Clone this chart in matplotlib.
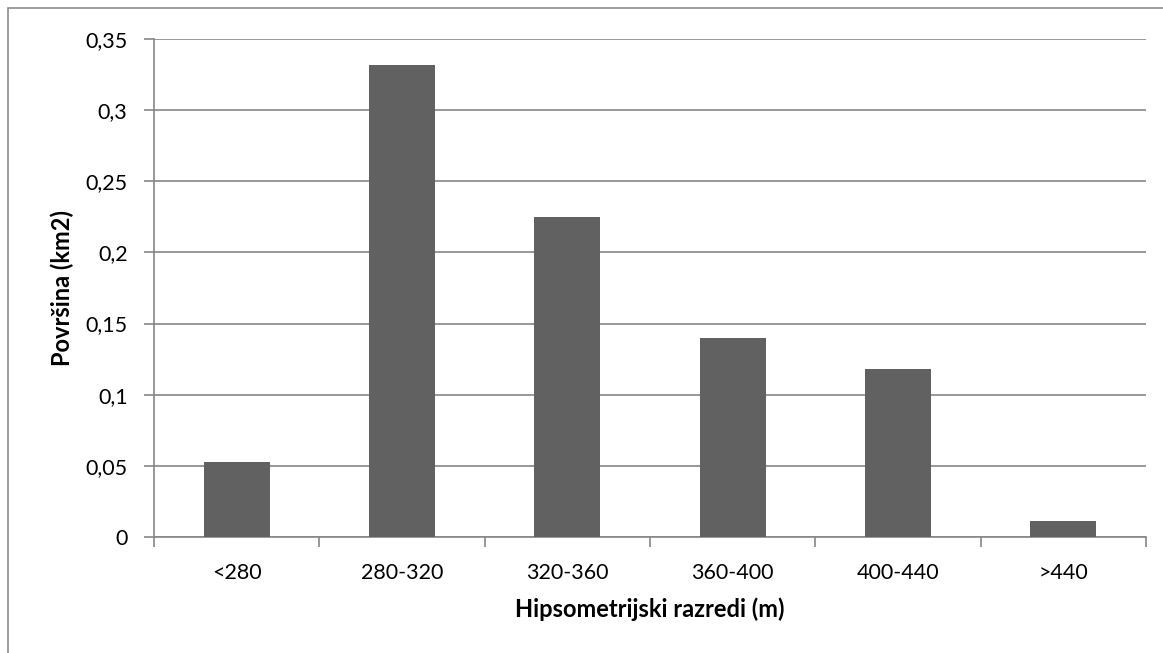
import matplotlib.pyplot as plt
from matplotlib.patches import Rectangle
from matplotlib.ticker import FixedLocator, MultipleLocator, FuncFormatter

plt.rcParams['font.family'] = ['Lato', 'DejaVu Sans']

# podaci
razredi = ['<280', '280-320', '320-360', '360-400', '400-440', '>440']
povrsina = [0.053, 0.332, 0.225, 0.140, 0.118, 0.011]

W, H = 1163, 653
fig = plt.figure(figsize=(W / 100, H / 100), dpi=100)
fig.patch.set_facecolor('white')

# okvir grafikona
fig.patches.append(Rectangle((8 / W, -0.05), (W + 20) / W, (H - 8) / H + 0.05,
                             transform=fig.transFigure, fill=False,
                             edgecolor='#8c8c8c', linewidth=1.2))

ax = fig.add_axes([154 / W, (H - 537) / H, (1146 - 154) / W, (537 - 39) / H])

grey = '#868686'
x = range(len(razredi))
ax.bar(x, povrsina, width=0.4, color='#616161', zorder=3)

ax.set_xlim(-0.5, len(razredi) - 0.5)
ax.set_ylim(0, 0.35)
ax.yaxis.set_major_locator(MultipleLocator(0.05))
ax.yaxis.set_major_formatter(FuncFormatter(
    lambda v, p: '0' if abs(v) < 1e-9 else ('%g' % round(v, 2)).replace('.', ',')))
ax.grid(axis='y', color=grey, linewidth=1.2, zorder=0)

ax.set_xticks(list(x))
ax.set_xticklabels(razredi)
ax.xaxis.set_minor_locator(FixedLocator([i - 0.5 for i in range(len(razredi) + 1)]))
ax.tick_params(axis='x', which='major', length=0, pad=19, labelsize=15.5)
ax.tick_params(axis='x', which='minor', length=7, width=1.2, color=grey)
ax.tick_params(axis='y', length=7, width=1.2, color=grey, labelsize=15.5, pad=12)

for s in ['top', 'right']:
    ax.spines[s].set_visible(False)
for s in ['left', 'bottom']:
    ax.spines[s].set_color(grey)
    ax.spines[s].set_linewidth(1.2)

ax.set_xlabel('Hipsometrijski razredi (m)', fontsize=17, fontweight='bold', labelpad=10)
ax.set_ylabel('Površina (km2)', fontsize=17, fontweight='bold', labelpad=8)

fig.savefig('out.png', dpi=100)
